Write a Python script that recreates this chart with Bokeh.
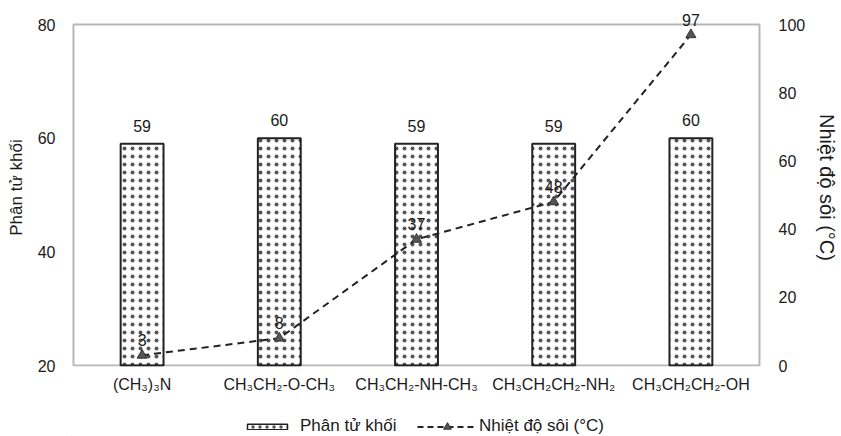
from bokeh.plotting import figure
from bokeh.layouts import column
from bokeh.models import (Range1d, LinearAxis, FactorRange, Legend, LegendItem,
                          ColumnDataSource, FixedTicker, BoxAnnotation)
from bokeh.core.properties import value
from bokeh.embed import file_html
from bokeh.resources import INLINE

categories = ["(CH₃)₃N", "CH₃CH₂-O-CH₃", "CH₃CH₂-NH-CH₃", "CH₃CH₂CH₂-NH₂", "CH₃CH₂CH₂-OH"]
molar_mass = [59, 60, 59, 59, 60]
boiling_point = [3, 8, 37, 48, 97]
left_ticks = [20, 40, 60, 80]
right_ticks = [0, 20, 40, 60, 80, 100]

FONT = "Liberation Sans"
INK = "#1a1a1a"

# geometry (pixels)
W, H = 841, 400
LEG_H = 36
BOX_TOP_PAD = 16     # room above the box for the "97" label
BOX_BOT_PAD = 1
BOX_SIDE_PAD = 1
BOX_H = 341
BOX_W = 688

lo_l, hi_l = left_ticks[0], left_ticks[-1]
lo_r, hi_r = right_ticks[0], right_ticks[-1]
ul = (hi_l - lo_l) / BOX_H
ur = (hi_r - lo_r) / BOX_H
ncat = len(categories)

src = ColumnDataSource(dict(
    cat=categories,
    mass=molar_mass,
    bp=boiling_point,
    mass_lbl=[str(v) for v in molar_mass],
    bp_lbl=[str(v) for v in boiling_point],
))

p = figure(x_range=FactorRange(factors=categories, range_padding=2 * BOX_SIDE_PAD * ncat / BOX_W,
                               range_padding_units="absolute"),
           y_range=Range1d(lo_l - BOX_BOT_PAD * ul, hi_l + BOX_TOP_PAD * ul),
           width=W, height=H, output_backend="svg", toolbar_location=None,
           min_border_left=71, min_border_right=80, min_border_top=8, min_border_bottom=34)
p.extra_y_ranges = {"bp": Range1d(lo_r - BOX_BOT_PAD * ur, hi_r + BOX_TOP_PAD * ur)}
p.background_fill_color = "white"
p.border_fill_color = "white"
p.outline_line_color = None
p.xgrid.visible = False
p.ygrid.visible = False

bars = p.vbar(x="cat", top="mass", bottom=lo_l, width=0.3125, source=src,
              fill_color="white", line_color="#222222", line_width=2,
              hatch_pattern="dot", hatch_color="#555555", hatch_scale=8, hatch_weight=0.5)

p.text(x="cat", y="mass", text="mass_lbl", source=src, text_align="center",
       text_baseline="bottom", y_offset=-12, text_font=value(FONT),
       text_font_size="16px", text_color=INK)

line = p.line(x="cat", y="bp", source=src, y_range_name="bp", line_color="#222222",
              line_width=2, line_dash="7 5")
pts = p.scatter(x="cat", y="bp", source=src, y_range_name="bp", marker="triangle",
                size=10, fill_color="#555555", line_color="#333333")
p.text(x="cat", y="bp", text="bp_lbl", source=src, y_range_name="bp",
       text_align="center", text_baseline="bottom", y_offset=-9,
       text_font=value(FONT), text_font_size="16px", text_color=INK)

box = BoxAnnotation(left=0, right=ncat, bottom=lo_l, top=hi_l, fill_color=None,
                    line_color="#111111", line_width=2, level="overlay")
p.add_layout(box)

ax_r = LinearAxis(y_range_name="bp", ticker=FixedTicker(ticks=right_ticks),
                  axis_label="Nhiệt độ sôi (°C)")
p.add_layout(ax_r, "right")

# axes
for ax in [p.xaxis[0], p.yaxis[0], ax_r]:
    ax.axis_line_color = None
    ax.major_tick_line_color = None
    ax.minor_tick_line_color = None
    ax.major_tick_out = 0
    ax.major_tick_in = 0
    ax.minor_tick_out = 0
    ax.minor_tick_in = 0
    ax.major_label_text_font = FONT
    ax.major_label_text_font_size = "16px"
    ax.major_label_text_color = INK

p.xaxis.major_label_standoff = 9
p.yaxis[0].ticker = FixedTicker(ticks=left_ticks)
p.yaxis[0].major_label_standoff = 16
p.yaxis[0].axis_label = "Phân tử khối"
p.yaxis[0].axis_label_text_font = FONT
p.yaxis[0].axis_label_text_font_style = "normal"
p.yaxis[0].axis_label_text_font_size = "17px"
p.yaxis[0].axis_label_text_color = INK
p.yaxis[0].axis_label_standoff = 9

ax_r.major_label_standoff = 17
ax_r.axis_label_text_font = FONT
ax_r.axis_label_text_font_style = "normal"
ax_r.axis_label_text_font_size = "20px"
ax_r.axis_label_text_color = INK
ax_r.axis_label_standoff = 8

# legend strip
lf = figure(width=W, height=LEG_H, x_range=Range1d(0, 1), y_range=Range1d(0, 1),
            output_backend="svg", toolbar_location=None, min_border=0)
lf.axis.visible = False
lf.grid.visible = False
lf.outline_line_color = None
offscreen = ColumnDataSource(dict(x=[-10], y=[-10]))
d_bar = lf.vbar(x="x", top="y", width=0.1, source=offscreen, fill_color="white",
                line_color="#222222", line_width=1.5, hatch_pattern="dot",
                hatch_color="#555555", hatch_scale=7, hatch_weight=0.5)
d_line = lf.line(x="x", y="y", source=offscreen, line_color="#222222", line_width=2,
                 line_dash="6 4")
d_pts = lf.scatter(x="x", y="y", source=offscreen, marker="triangle", size=8,
                   fill_color="#555555", line_color="#333333")

common = dict(orientation="horizontal", label_text_font=FONT, label_text_font_size="17px",
              label_text_color=INK, padding=0, margin=0, border_line_color=None,
              background_fill_alpha=0, label_height=20)
leg1 = Legend(items=[LegendItem(label="Phân tử khối", renderers=[d_bar])],
              location=(171, 0), label_standoff=8, glyph_width=50, glyph_height=7, **common)
leg2 = Legend(items=[LegendItem(label="Nhiệt độ sôi (°C)", renderers=[d_line, d_pts])],
              location=(346, 0), label_standoff=2, glyph_width=60, glyph_height=19, **common)
lf.add_layout(leg1, "center")
lf.add_layout(leg2, "center")

layout = column(p, lf, spacing=0)
open("out.html", "w").write(file_html(layout, INLINE))
